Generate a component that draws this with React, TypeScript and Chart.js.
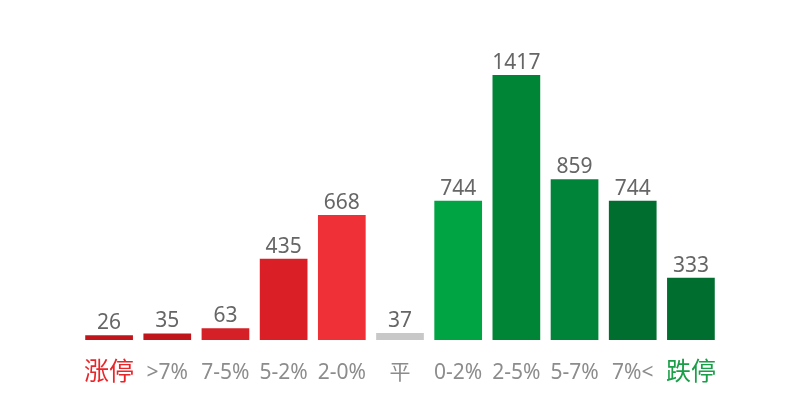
import React, { useEffect, useRef } from "react";
import { Chart, registerables } from "chart.js";

Chart.register(...registerables);

const categories = ["涨停", ">7%", "7-5%", "5-2%", "2-0%", "平", "0-2%", "2-5%", "5-7%", "7%<", "跌停"];
const values = [26, 35, 63, 435, 668, 37, 744, 1417, 859, 744, 333];
const barColors = [
  "#C0161B", "#C0161B", "#D42026", "#DA2026", "#EF3036", "#C8C8C8",
  "#00A443", "#008537", "#00843A", "#006E2E", "#006E2E",
];
const labelColors = [
  "#E8262A", "#8C8C8C", "#8C8C8C", "#8C8C8C", "#8C8C8C", "#8C8C8C",
  "#8C8C8C", "#8C8C8C", "#8C8C8C", "#8C8C8C", "#1A9E48",
];

const FONT = "'Noto Sans', 'Noto Sans CJK SC', sans-serif";

const labelsPlugin = {
  id: "labelsPlugin",
  afterDatasetsDraw(chart: any) {
    const ctx = chart.ctx;
    const meta = chart.getDatasetMeta(0);
    const xScale = chart.scales.x;
    const bottom = chart.chartArea.bottom;
    ctx.save();
    ctx.textAlign = "center";
    // value labels above bars
    ctx.font = `21px ${FONT}`;
    ctx.fillStyle = "#666666";
    ctx.textBaseline = "alphabetic";
    meta.data.forEach((bar: any, i: number) => {
      ctx.fillText(String(values[i]), bar.x, bar.y - 6);
    });
    // category labels below axis
    ctx.textBaseline = "middle";
    categories.forEach((cat, i) => {
      const big = i === 0 || i === categories.length - 1;
      ctx.font = `${big ? 25 : 21}px ${FONT}`;
      ctx.fillStyle = labelColors[i];
      ctx.fillText(cat, xScale.getPixelForValue(i), bottom + 33);
    });
    ctx.restore();
  },
};

export default function App() {
  const ref = useRef<HTMLCanvasElement | null>(null);
  useEffect(() => {
    document.body.style.margin = "0";
    const chart = new Chart(ref.current!, {
      type: "bar",
      data: {
        labels: categories,
        datasets: [
          {
            data: values,
            backgroundColor: barColors,
            barPercentage: 0.82,
            categoryPercentage: 1,
          },
        ],
      },
      options: {
        animation: false,
        responsive: false,
        devicePixelRatio: 1,
        layout: { padding: { left: 80, right: 80, top: 22, bottom: 60 } },
        plugins: { legend: { display: false }, tooltip: { enabled: false } },
        scales: {
          x: { display: false },
          y: { display: false, min: 0, max: 1700 },
        },
      },
      plugins: [labelsPlugin],
    });
    return () => chart.destroy();
  }, []);
  return (
    <div style={{ width: 800, height: 400 }}>
      <canvas ref={ref} width={800} height={400} />
    </div>
  );
}
